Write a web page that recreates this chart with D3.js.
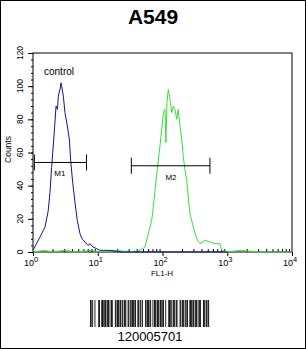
<!DOCTYPE html>
<html>
<head>
<meta charset="utf-8">
<script src="https://cdnjs.cloudflare.com/ajax/libs/d3/7.8.5/d3.min.js"></script>
<style>
  body { margin: 0; background: #fff; }
  svg { display: block; font-family: "Liberation Sans", Arial, sans-serif; }
</style>
</head>
<body>
<svg id="chart" width="306" height="349"></svg>
<script>
// data (FL1-H channel value, counts)
const controlFL = [1, 1.28, 1.53, 1.72, 1.83, 1.94, 2.11, 2.27, 2.39, 2.46, 2.61, 2.71, 2.77, 2.94, 3.12, 3.39, 3.64, 3.82, 4.1, 4.45, 4.83, 5.32, 5.71, 6.35, 7.07, 7.59, 8.45, 9.63, 10.8, 15.5, 22.1, 50, 200, 1000];
const controlCounts = [1, 9, 15, 25, 36, 51, 70, 88, 86, 94, 98, 102, 100, 94, 84, 76, 68, 55, 42, 30, 19, 11, 8, 6, 4, 5, 3, 2, 1, 1, 0, 0, 0, 0];
const sampleFL = [1, 1.5, 2, 3, 5, 8, 10, 20, 30, 45, 53.7, 60.4, 68.1, 72.1, 76.6, 81.3, 86.1, 91.4, 97.2, 103, 109, 113, 117, 123, 131, 139, 147, 156, 166, 175, 186, 198, 210, 223, 237, 250, 266, 299, 337, 380, 453, 542, 647, 773, 821, 981, 1574, 3206, 10000];
const sampleCounts = [0, 1, 0, 1, 0, 1, 0, 1, 0, 1, 3, 11, 19, 27, 37, 47, 55, 64, 74, 84, 86, 66, 90, 98, 92, 84, 88, 86, 80, 86, 76, 68, 57, 49, 43, 33, 23, 15, 8, 5, 7, 6, 5, 5, 1, 0, 1, 0, 0];

const xTicks = [1, 10, 100, 1000, 10000];
const yTicks = [0, 20, 40, 60, 80, 100, 120];
const markers = [
  { name: "M1", from: 1.05, to: 6.7, level: 54, labelAt: 2.6 },
  { name: "M2", from: 33, to: 540, level: 52, labelAt: 135 }
];
const title = "A549";
const barcodeText = "120005701";
const barcodeBars = "11010010000110011101101110101100011011101011011100110101110110011011010001011101100101110111011011001000111010111011000110111010110011101101110101100011101011";

const svg = d3.select("#chart");
const colors = { control: "#14148c", sample: "#3cdc3c", ink: "#000" };

// image frame
svg.append("rect").attr("x", 0.5).attr("y", 0.5).attr("width", 305).attr("height", 348)
  .attr("fill", "none").attr("stroke", "#000");

svg.append("text").attr("x", 153).attr("y", 24).attr("text-anchor", "middle")
  .style("font-size", "21px").style("font-weight", "bold").text(title);

const margin = { left: 33, top: 53, right: 292, bottom: 252 };
const x = d3.scaleLog().domain([1, 10000]).range([margin.left, margin.right]);
const y = d3.scaleLinear().domain([0, 120]).range([margin.bottom, margin.top]);

// plot box
svg.append("rect").attr("x", margin.left).attr("y", margin.top)
  .attr("width", margin.right - margin.left).attr("height", margin.bottom - margin.top)
  .attr("fill", "none").attr("stroke", "#000");

// y axis: majors outward, minors every 4
const yAxis = svg.append("g").attr("transform", `translate(${margin.left},0)`);
yAxis.call(d3.axisLeft(y).tickValues(d3.range(0, 121, 4)).tickSize(2).tickFormat(""));
yAxis.call(g => g.select(".domain").remove());
const yMaj = svg.append("g").attr("transform", `translate(${margin.left},0)`)
  .call(d3.axisLeft(y).tickValues(yTicks).tickSize(5).tickFormat(""));
yMaj.select(".domain").remove();
svg.selectAll(".ylab").data(yTicks).enter().append("text")
  .attr("class", "ylab")
  .attr("transform", d => `translate(23,${y(d)}) rotate(-90)`)
  .attr("text-anchor", "middle")
  .style("font-size", "8.5px").text(d => d);
svg.append("text").attr("transform", `translate(11,${y(60) - 3}) rotate(-90)`)
  .attr("text-anchor", "middle").style("font-size", "8.5px").text("Counts");

// x axis: decade majors outward, minors inward
const minors = [];
[1, 10, 100, 1000].forEach(dec => d3.range(2, 10).forEach(k => minors.push(dec * k)));
const xMin = svg.append("g").attr("transform", `translate(0,${margin.bottom})`)
  .call(d3.axisTop(x).tickValues(minors).tickSize(3).tickFormat(""));
xMin.select(".domain").remove();
const xMaj = svg.append("g").attr("transform", `translate(0,${margin.bottom})`)
  .call(d3.axisBottom(x).tickValues(xTicks).tickSize(4).tickFormat(""));
xMaj.select(".domain").remove();
const xl = svg.selectAll(".xlab").data(xTicks).enter().append("text")
  .attr("class", "xlab")
  .attr("x", d => x(d) - 2).attr("y", 266)
  .attr("text-anchor", "middle").style("font-size", "9px");
xl.append("tspan").text("10");
xl.append("tspan").attr("dy", -4).style("font-size", "7.5px").text(d => Math.round(Math.log10(d)));
svg.append("text").attr("x", 162).attr("y", 276).attr("text-anchor", "middle")
  .style("font-size", "8px").text("FL1-H");

// histograms
const line = d3.line().x(d => x(d[0])).y(d => y(d[1]));
svg.append("path").datum(sampleFL.map((v, i) => [v, sampleCounts[i]]))
  .attr("fill", "none").attr("stroke", colors.sample).attr("stroke-width", 1).attr("d", line);
svg.append("path").datum(controlFL.map((v, i) => [v, controlCounts[i]]))
  .attr("fill", "none").attr("stroke", colors.control).attr("stroke-width", 1).attr("d", line);

svg.append("text").attr("x", 44).attr("y", 75).style("font-size", "10px").text("control");

// marker brackets
markers.forEach(m => {
  const g = svg.append("g").attr("stroke", "#000");
  g.append("line").attr("x1", x(m.from)).attr("x2", x(m.to)).attr("y1", y(m.level)).attr("y2", y(m.level));
  [m.from, m.to].forEach(v => g.append("line").attr("x1", x(v)).attr("x2", x(v))
    .attr("y1", y(m.level) - 8).attr("y2", y(m.level) + 8));
  svg.append("text").attr("x", x(m.labelAt)).attr("y", y(m.level) + 14)
    .attr("text-anchor", "middle").style("font-size", "8px").text(m.name);
});

// barcode
const bx = d3.scaleLinear().domain([0, barcodeBars.length]).range([90, 209]);
svg.append("g").selectAll("rect").data(barcodeBars.split("").map((c, i) => [c, i]).filter(d => d[0] === "1"))
  .enter().append("rect")
  .attr("x", d => bx(d[1])).attr("y", 300).attr("width", bx(1) - bx(0) + 0.1).attr("height", 27)
  .attr("fill", "#000");
svg.append("text").attr("x", 150).attr("y", 341).attr("text-anchor", "middle")
  .style("font-size", "13px").text(barcodeText);
</script>
</body>
</html>
